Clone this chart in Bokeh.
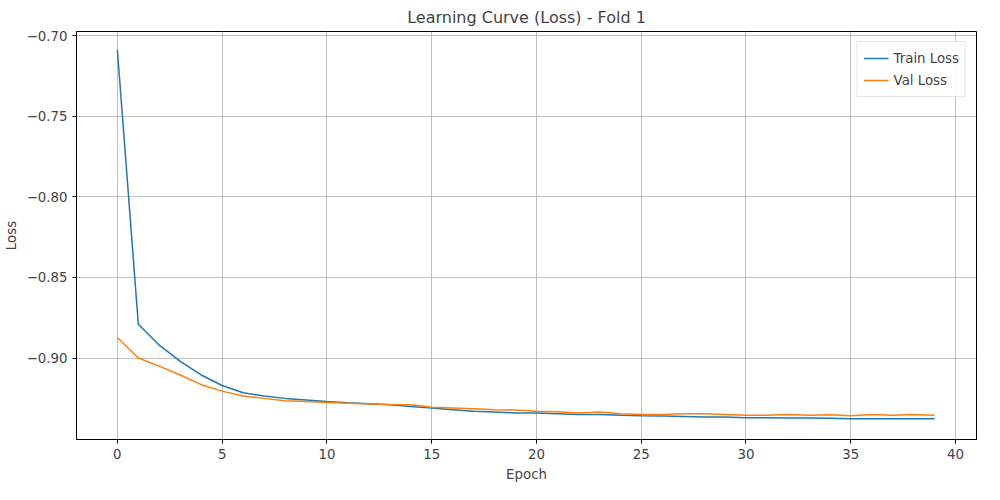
from bokeh.plotting import figure
from bokeh.embed import file_html
from bokeh.resources import INLINE
from bokeh.models import Legend, LegendItem, FixedTicker

epochs = list(range(40))
train_loss = [-0.7088, -0.879, -0.892, -0.902, -0.9105, -0.917, -0.9215, -0.9235, -0.925, -0.926,
              -0.927, -0.9277, -0.9283, -0.929, -0.930, -0.931, -0.932, -0.933, -0.9335, -0.934,
              -0.934, -0.9345, -0.935, -0.935, -0.9355, -0.9358, -0.936, -0.9362, -0.9365, -0.9365,
              -0.937, -0.937, -0.9372, -0.9372, -0.9374, -0.9376, -0.9376, -0.9376, -0.9376, -0.9377]
val_loss = [-0.8873, -0.900, -0.905, -0.9105, -0.9165, -0.9205, -0.9235, -0.925, -0.9265, -0.927,
            -0.9275, -0.928, -0.9285, -0.9288, -0.929, -0.9305, -0.931, -0.9315, -0.932, -0.9322,
            -0.933, -0.9333, -0.934, -0.9335, -0.9345, -0.935, -0.935, -0.9345, -0.9345, -0.935,
            -0.9355, -0.9355, -0.935, -0.9355, -0.9352, -0.9358, -0.935, -0.9355, -0.935, -0.9355]

p = figure(width=984, height=484, output_backend="svg", toolbar_location=None,
           x_range=(-1.95, 41.0), y_range=(-0.9505, -0.6975),
           title="Learning Curve (Loss) - Fold 1", x_axis_label="Epoch", y_axis_label="Loss",
           min_border_left=70, min_border_right=8, min_border_top=10, min_border_bottom=10)
p.title.align = "center"
p.title.text_font = "DejaVu Sans"
p.title.text_font_style = "normal"
p.title.text_font_size = "12pt"
for ax in (p.xaxis, p.yaxis):
    ax.axis_label_text_font = "DejaVu Sans"
    ax.axis_label_text_font_style = "normal"
    ax.axis_label_text_font_size = "10pt"
    ax.major_label_text_font = "DejaVu Sans"
    ax.major_label_text_font_size = "10pt"
    ax.minor_tick_line_color = None
    ax.major_tick_in = 0
    ax.major_tick_out = 4
p.xaxis.ticker = FixedTicker(ticks=[0, 5, 10, 15, 20, 25, 30, 35, 40])
p.yaxis.ticker = FixedTicker(ticks=[-0.70, -0.75, -0.80, -0.85, -0.90])
p.yaxis.formatter.use_scientific = False
from bokeh.models import CustomJSTickFormatter
p.yaxis.formatter = CustomJSTickFormatter(code="return '\u2212' + Math.abs(tick).toFixed(2);")
p.grid.grid_line_color = "#b0b0b0"
p.grid.grid_line_width = 0.8
p.outline_line_color = "black"

r1 = p.line(epochs, train_loss, line_color="#1f77b4", line_width=1.5)
r2 = p.line(epochs, val_loss, line_color="#ff7f0e", line_width=1.5)
leg = Legend(items=[LegendItem(label="Train Loss", renderers=[r1]),
                    LegendItem(label="Val Loss", renderers=[r2])],
             location="top_right", label_text_font="DejaVu Sans", label_text_font_size="10pt",
             border_line_color="#cccccc", glyph_width=25, label_height=14, spacing=2, padding=6)
p.add_layout(leg)

open("out.html", "w").write(file_html(p, INLINE))
